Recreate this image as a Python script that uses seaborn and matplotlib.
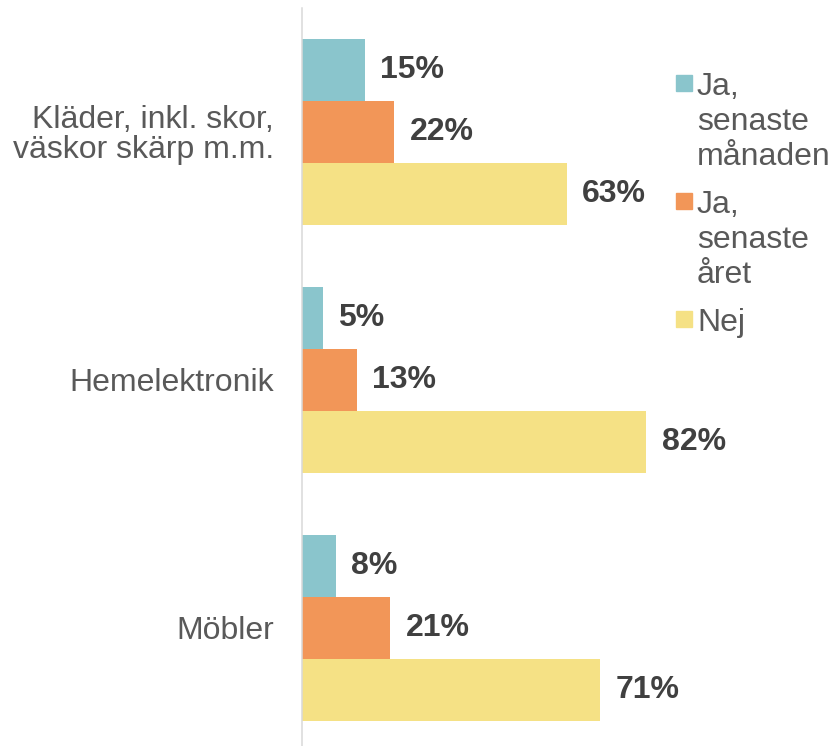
import pandas as pd
import matplotlib.pyplot as plt
import matplotlib.patches as mpatches
import seaborn as sns

# data
categories = ["Kläder, inkl. skor,\nväskor skärp m.m.", "Hemelektronik", "Möbler"]
series_names = ["Ja,\nsenaste\nmånaden", "Ja,\nsenaste\nåret", "Nej"]
manaden = [15, 5, 8]
aret = [22, 13, 21]
nej = [63, 82, 71]
colors = ["#8AC5CC", "#F29658", "#F5E185"]

df = pd.DataFrame({
    "Kategori": categories * 3,
    "Svar": [series_names[0]] * 3 + [series_names[1]] * 3 + [series_names[2]] * 3,
    "Andel": manaden + aret + nej,
})

sns.set_style("white")
plt.rcParams['font.family'] = ['Liberation Sans', 'DejaVu Sans']

W, H = 835, 746
fig = plt.figure(figsize=(W / 100, H / 100), dpi=100)
ax = fig.add_axes([302 / W, 0, (660 - 302) / W, (H - 8) / H])

sns.barplot(data=df, y="Kategori", x="Andel", hue="Svar", orient="h",
            palette=colors, width=0.75, saturation=1, legend=False, ax=ax,
            order=categories, hue_order=series_names, linewidth=0)

ax.set_xlim(0, (660 - 302) / 4.2)
ax.set_ylim(2.476, -0.5)

for cont in ax.containers:
    ax.bar_label(cont, fmt="%d%%", padding=11, fontsize=23,
                 fontweight="bold", color="#404040", clip_on=False)

ax.set_xlabel("")
ax.set_ylabel("")
ax.set_xticks([])
ax.tick_params(axis="y", length=0, pad=20, labelsize=23, labelcolor="#595959")
for lbl in ax.get_yticklabels():
    lbl.set_linespacing(1.0)
for s in ["top", "right", "bottom"]:
    ax.spines[s].set_visible(False)
ax.spines["left"].set_color("#D9D9D9")
ax.spines["left"].set_linewidth(1.1)

# legend drawn by hand so the swatch sits on the first line of each label
leg_tops = [75, 193, 311]
for name, col, top in zip(series_names, colors, leg_tops):
    fig.patches.append(mpatches.Rectangle((676 / W, 1 - (top + 16) / H), 16 / W, 16 / H,
                                          transform=fig.transFigure, color=col))
    for i, line in enumerate(name.split("\n")):
        yc = top + 12 + i * 35
        fig.text(697 / W, 1 - yc / H, line, fontsize=23, color="#595959",
                 va="center", ha="left")

fig.savefig("out.png", dpi=100)
